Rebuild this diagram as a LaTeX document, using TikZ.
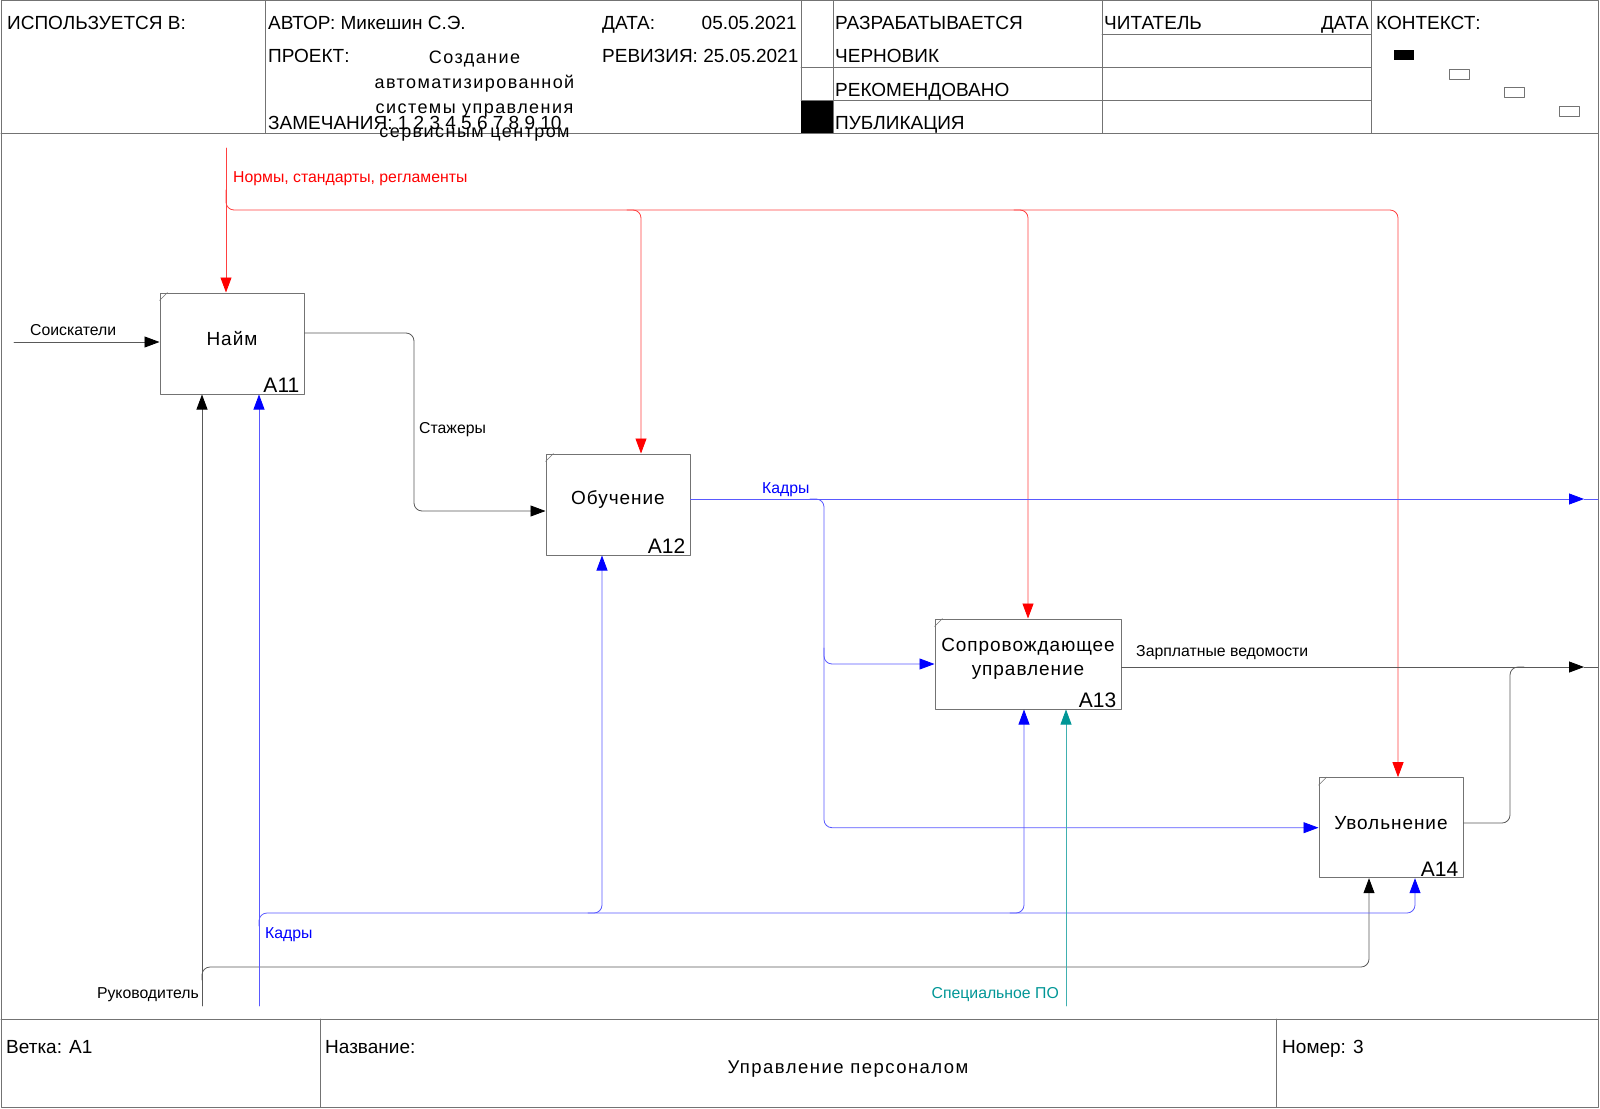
\documentclass[tikz,border=0pt]{standalone}
\usepackage{fontspec}
\setmainfont{Liberation Sans}
\newfontfamily\idefwide[LetterSpace=5]{Liberation Sans}
\newfontfamily\ideftitle[LetterSpace=8]{Liberation Sans}
\usepackage{tikz}
\usetikzlibrary{arrows.meta,calc,positioning}
\definecolor{idefteal}{RGB}{0,150,150}
\tikzset{
  every picture/.append style={line cap=round,line join=round},
  idef frame/.style={draw=black!55,line width=1pt},
  idef box/.style={draw=black!55,line width=1pt,inner sep=0pt},
  idef title/.style={inner sep=0pt,align=center,yshift=5pt,font=\idefwide\fontsize{19}{24}\selectfont},
  idef num/.style={anchor=south east,inner xsep=5pt,inner ysep=2pt,font=\fontsize{21}{21}\selectfont},
  idef head/.style={anchor=base west,inner sep=0pt,font=\fontsize{19}{22}\selectfont},
  idef note/.style={anchor=base west,inner sep=0pt,font=\fontsize{15.8}{18}\selectfont},
  idef black/.style={draw=black!65,line width=0.8pt,rounded corners=8pt},
  idef red/.style={draw=red!75,line width=0.8pt,rounded corners=8pt},
  idef blue/.style={draw=blue!65,line width=0.8pt,rounded corners=8pt},
  idef teal/.style={draw=idefteal!75,line width=0.8pt,rounded corners=8pt},
  idef tip/.style={-{Triangle[length=15pt,width=11pt,color=#1]}}
}
\begin{document}
\begin{tikzpicture}[x=1pt,y=-1pt]
  \useasboundingbox (0,0) rectangle (1600,1108);
  \draw[idef frame] (1,1) rectangle (1598,1107);
  \draw[idef frame] (1,133) -- (1598,133) (1,1019) -- (1598,1019);
  \foreach \x in {265,801,833,1102,1371} \draw[idef frame] (\x,1) -- (\x,133);
  \draw[idef frame] (1102,35) -- (1371,35) (801,68) -- (1371,68) (801,100.5) -- (1371,100.5);
  \fill (801,100.5) rectangle (833,133);
  \foreach \x in {320,1276.5} \draw[idef frame] (\x,1019) -- (\x,1107);
  \fill (1394,50) rectangle ++(20,10);
  \foreach \x/\y in {1449/69,1504/87.5,1559/106} \draw[idef frame,line width=0.7pt] (\x,\y) rectangle ++(20,10);

  \node[idef head] (used) at (7,30) {ИСПОЛЬЗУЕТСЯ В:};
  \node[idef head] (author) at (268,30) {АВТОР: Микешин С.Э.};
  \node[idef head] (project) at (268,63) {ПРОЕКТ:};
  \node[idef head] (notes) at (268,129) {ЗАМЕЧАНИЯ: 1 2 3 4 5 6 7 8 9 10};
  \node[idef head] (date) at (602,30) {ДАТА:};
  \node[idef head,anchor=base east] (dateval) at (797,30) {05.05.2021};
  \node[idef head] (rev) at (602,63) {РЕВИЗИЯ: 25.05.2021};
  \node[idef head] (work) at (835,30) {РАЗРАБАТЫВАЕТСЯ};
  \node[idef head] (draft) at (835,63) {ЧЕРНОВИК};
  \node[idef head] (recom) at (835,96) {РЕКОМЕНДОВАНО};
  \node[idef head] (publ) at (835,129) {ПУБЛИКАЦИЯ};
  \node[idef head] (reader) at (1104,30) {ЧИТАТЕЛЬ};
  \node[idef head,anchor=base east] (rdate) at (1369,30) {ДАТА};
  \node[idef head] (context) at (1376,30) {КОНТЕКСТ:};
  \node[idef title,yshift=-5pt,font=\ideftitle\fontsize{18}{24.8}\selectfont] (ptitle) at (474.5,96.3)
    {Создание\\автоматизированной\\системы управления\\сервисным центром};

  \node[idef box,minimum width=144pt,minimum height=101pt,
    label={[idef num]south east:A11},label={[idef title]center:Найм}] (a11) at (232,343.5) {};
  \node[idef box,minimum width=144pt,minimum height=101pt,
    label={[idef num]south east:A12},label={[idef title]center:Обучение}] (a12) at (618,504.5) {};
  \node[idef box,minimum width=186pt,minimum height=90pt,
    label={[idef num]south east:A13},label={[idef title]center:Сопровождающее\\управление}] (a13) at (1028,664) {};
  \node[idef box,minimum width=144pt,minimum height=100pt,
    label={[idef num]south east:A14},label={[idef title]center:Увольнение}] (a14) at (1391,827.7) {};
  \foreach \b in {a11,a12,a13,a14}
    \draw[idef frame,line width=0.6pt] ([yshift=-8pt]\b.north west) -- ([xshift=8pt]\b.north west);

  \coordinate (norm) at (226,148);
  \draw[idef red,idef tip=red] (norm) -- (norm |- a11.north);
  \draw[idef red,idef tip=red] (226,190) |- (1398,210) -- (a14.north -| 1398,210);
  \foreach \xx/\b in {641/a12,1028/a13}
    \draw[idef red,idef tip=red] (\xx-14,210) -| (\b.north -| \xx,210);

  \coordinate (cand) at (14,342);
  \draw[idef black,idef tip=black] (cand) -- (cand -| a11.west);
  \coordinate (staj) at (414,511);
  \draw[idef black,idef tip=black] ([yshift=10.5pt]a11.east) -| (staj) -- (staj -| a12.west);

  \coordinate (kadr) at (824,499);
  \draw[idef blue,idef tip=blue] (kadr -| a12.east) -- (1584,499);
  \draw[idef blue] (1584,499) -- (1598,499);
  \draw[idef blue,idef tip=blue] (kadr) ++(-14,0) -| (kadr |- a14.west) -- (a14.west);
  \draw[idef blue,idef tip=blue] (kadr |- 0,648) |- (a13.west);

  \coordinate (zarp) at (1510,667);
  \draw[idef black,idef tip=black] (zarp -| a13.east) -- (1584,667);
  \draw[idef black] (1584,667) -- (1598,667);
  \draw[idef black] ([yshift=4.7pt]a14.east) -| (zarp) -- (1524,667);

  \coordinate (ruk) at (202,1006);
  \coordinate (kad) at (259,1006);
  \coordinate (spo) at (1066,1006);
  \draw[idef black,idef tip=black] (ruk) -- (ruk |- a11.south);
  \draw[idef black,idef tip=black] (202,980) |- (1369,967) -- (a14.south -| 1369,967);
  \draw[idef blue,idef tip=blue] (kad) -- (kad |- a11.south);
  \draw[idef blue,idef tip=blue] (259,926) |- (1415,913) -- (a14.south -| 1415,913);
  \foreach \xx/\b in {602/a12,1024/a13}
    \draw[idef blue,idef tip=blue] (\xx-14,913) -| (\b.south -| \xx,913);
  \draw[idef teal,idef tip=idefteal] (spo) -- (spo |- a13.south);

  \node[idef note,text=red] (lnorm) at (233,182.1) {Нормы, стандарты, регламенты};
  \node[idef note] (lcand) at (30,335.7) {Соискатели};
  \node[idef note] (lstaj) at (419,433.1) {Стажеры};
  \node[idef note,text=blue] (lkadr) at (762,493.1) {Кадры};
  \node[idef note] (lzarp) at (1136,656.1) {Зарплатные ведомости};
  \node[idef note,text=blue] (lkad) at (265,938.1) {Кадры};
  \node[idef note,anchor=base east] (lruk) at (199,998.1) {Руководитель};
  \node[idef note,anchor=base east,text=idefteal] (lspo) at (1059,998.1) {Специальное ПО};

  \node[idef head] (branch) at (6,1053.5) {Ветка: A1};
  \node[idef head] (name) at (325,1053.5) {Название:};
  \node[idef title,yshift=-5pt,font=\ideftitle\fontsize{18.5}{22}\selectfont] (title) at (848,1069) {Управление персоналом};
  \node[idef head] (number) at (1282,1053.5) {Номер: 3};
\end{tikzpicture}
\end{document}
